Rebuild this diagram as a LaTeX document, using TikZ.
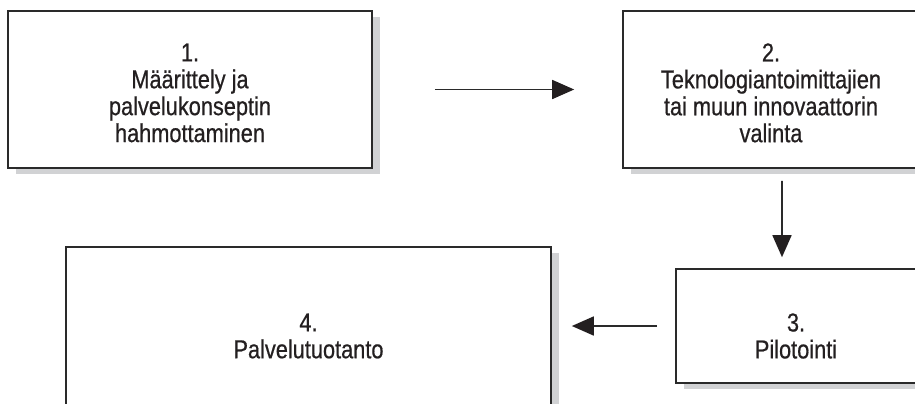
\documentclass[tikz,border=0pt]{standalone}
\usepackage{fontspec}
\setmainfont[FakeStretch=0.84,FakeBold=0.6]{Liberation Sans}
\usetikzlibrary{arrows.meta,shadows}
\definecolor{ink}{HTML}{231F20}
\definecolor{shade}{HTML}{D1D2D4}
\definecolor{edge}{HTML}{2A2A2A}
\newcommand\lblfont{\fontsize{26}{27}\selectfont\setlength{\lineskiplimit}{-100pt}}
\begin{document}
\begin{tikzpicture}[x=1bp,y=-1bp,
  box/.style={rectangle, draw=edge, line width=1.6bp, fill=white, inner sep=0pt,
    drop shadow={shadow xshift=8bp, shadow yshift=-6bp, fill=shade, opacity=1}},
  lbl/.style={align=center, text=ink, inner sep=0pt, font=\lblfont},
  arr/.style={draw=edge, line width=1.6bp,
    -{Triangle[length=22bp,width=19bp,color=ink]}}]
\useasboundingbox (0,0) rectangle (915,403);
\clip (0,0) rectangle (915,403);
% boxes
\node[box, minimum width=364bp, minimum height=157bp] (b1) at (190,89.5) {};
\node[box, minimum width=296bp, minimum height=157bp] (b2) at (771,89.5) {};
\node[box, minimum width=240bp, minimum height=114bp] (b3) at (796,326) {};
\node[box, minimum width=485bp, minimum height=158bp] (b4) at (308.5,326) {};
% labels
\node[lbl] (t1) at (190,92.9) {1.\\Määrittely ja\\palvelukonseptin\\hahmottaminen};
\node[lbl] (t2) at (771,92.9) {2.\\Teknologiantoimittajien\\tai muun innovaattorin\\valinta};
\node[lbl] (t3) at (796,336) {3.\\Pilotointi};
\node[lbl] (t4) at (308.5,336) {4.\\Palvelutuotanto};
% connectors
\draw[arr, shorten <=62bp, shorten >=48bp] (b1.east) -- (b2.west);
\draw[arr, shorten <=12bp, shorten >=11bp] ([xshift=11bp]b2.south) -- ([xshift=-14bp]b3.north);
\draw[arr, shorten <=18bp, shorten >=20bp] (b3.west) -- (b4.east);
\end{tikzpicture}
\end{document}
